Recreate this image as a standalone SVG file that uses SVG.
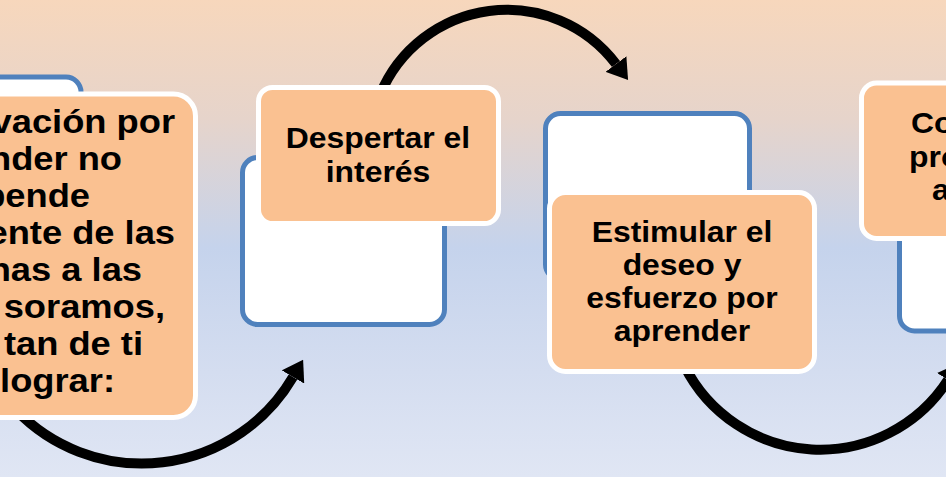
<svg xmlns="http://www.w3.org/2000/svg" width="946" height="477" viewBox="0 0 946 477">
  <defs>
    <linearGradient id="bg" x1="0" y1="0" x2="0" y2="1">
      <stop offset="0" stop-color="#f7d7bc"/>
      <stop offset="0.25" stop-color="#e6d4cb"/>
      <stop offset="0.52" stop-color="#c5d3ec"/>
      <stop offset="0.78" stop-color="#d4ddf0"/>
      <stop offset="1" stop-color="#e0e6f4"/>
    </linearGradient>
    <marker id="head" viewBox="0 0 20 26" refX="0" refY="13" markerWidth="20" markerHeight="26" markerUnits="userSpaceOnUse" orient="auto">
      <path d="M0,0 L20,13 L0,26 z" fill="#000"/>
    </marker>
    <style>
      .back { fill: #ffffff; stroke: #4f81bd; stroke-width: 5; }
      .front { fill: #fac191; stroke: #ffffff; stroke-width: 5; }
      .arrow { fill: none; stroke: #000; stroke-width: 10; marker-end: url(#head); }
      .t { font-family: "Liberation Sans", Arial, sans-serif; font-weight: bold; fill: #000; }
      .s29 { font-size: 29px; }
      .s33 { font-size: 33px; }
    </style>
  </defs>
  <rect x="0" y="0" width="946" height="477" fill="url(#bg)"/>

  <g id="connectors">
    <path class="arrow" d="M 16 410 A 175 175 0 0 0 293 377"/>
    <path class="arrow" d="M 380 95 A 137 137 0 0 1 616 64"/>
    <path class="arrow" d="M 684 365 A 152 152 0 0 0 948 380"/>
  </g>

  <g id="node1">
    <rect class="back" x="-125" y="77" width="206" height="168" rx="15"/>
    <rect class="front" x="-140" y="94" width="335.5" height="323.5" rx="22"/>
    <g class="t s33" text-anchor="end">
      <text transform="matrix(1.1,0,0,1,175,133)">vación por</text>
      <text transform="matrix(1.1,0,0,1,122,170)">nder no</text>
      <text transform="matrix(1.1,0,0,1,90,207)">pende</text>
      <text transform="matrix(1.1,0,0,1,175,244)">ente de las</text>
      <text transform="matrix(1.1,0,0,1,142,281)">nas a las</text>
      <text transform="matrix(1.1,0,0,1,165,318)">soramos,</text>
      <text transform="matrix(1.1,0,0,1,143,355)">tan de ti</text>
      <text transform="matrix(1.1,0,0,1,115,392)">lograr:</text>
    </g>
  </g>

  <g id="node2">
    <rect class="back" x="242.5" y="157.5" width="202" height="167" rx="15"/>
    <rect class="front" x="258.5" y="87.5" width="240" height="136" rx="14"/>
    <g class="t s29" text-anchor="middle">
      <text transform="matrix(1.1,0,0,1,378,148)">Despertar el</text>
      <text transform="matrix(1.1,0,0,1,378,182)">interés</text>
    </g>
  </g>

  <g id="node3">
    <rect class="back" x="545.5" y="113.5" width="204" height="166" rx="15"/>
    <rect class="front" x="549.5" y="192.5" width="265" height="179" rx="16"/>
    <g class="t s29" text-anchor="middle">
      <text transform="matrix(1.1,0,0,1,682,242)">Estimular el</text>
      <text transform="matrix(1.1,0,0,1,682,275)">deseo y</text>
      <text transform="matrix(1.1,0,0,1,682,308)">esfuerzo por</text>
      <text transform="matrix(1.1,0,0,1,682,341)">aprender</text>
    </g>
  </g>

  <g id="node4">
    <rect class="back" x="899.5" y="163" width="204" height="168" rx="15"/>
    <rect class="front" x="861.5" y="83" width="240" height="155.5" rx="15"/>
    <g class="t s29" text-anchor="start">
      <text transform="matrix(1.1,0,0,1,911,133)">Co</text>
      <text transform="matrix(1.1,0,0,1,909,167)">pro</text>
      <text transform="matrix(1.1,0,0,1,932,200)">a</text>
    </g>
  </g>
</svg>
